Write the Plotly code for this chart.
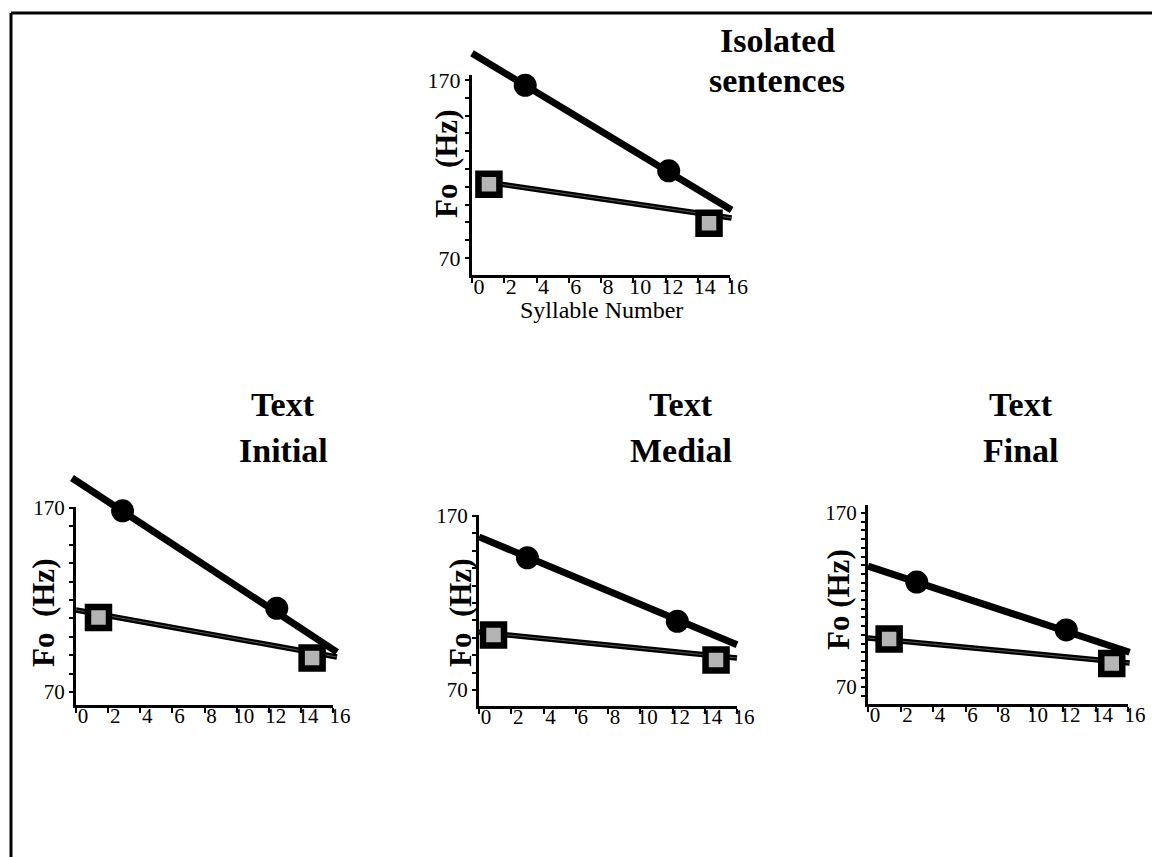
import plotly.graph_objects as go

W, H = 1152, 857

# ---- data: Fo (Hz) against syllable number ----
PANEL_TITLES = [["Isolated", "sentences"], ["Text", "Initial"], ["Text", "Medial"], ["Text", "Final"]]

# high (circle) regression line and its two marked points
CIRCLE_LINE_X = [[0, 16.1], [-0.25, 16.25], [0, 16.0], [0, 16.1]]
CIRCLE_LINE_Y = [[185, 97], [186.3, 91.7], [158, 96], [139.5, 90]]
CIRCLE_X = [[3.3, 12.2], [2.9, 12.5], [3.0, 12.3], [3.0, 12.2]]
CIRCLE_Y = [[167, 119], [168.5, 115.5], [146, 109.5], [130.3, 102.8]]

# low (square) regression line and its two marked points
SQUARE_LINE_X = [[0.6, 16.1], [0, 16.25], [0, 16.0], [0, 16.1]]
SQUARE_LINE_Y = [[113, 92.5], [114.6, 89], [103.3, 88.4], [98.2, 83.8]]
SQUARE_X = [[1.05, 14.7], [1.4, 14.7], [0.9, 14.7], [1.3, 15.0]]
SQUARE_Y = [[111.5, 89.5], [110.5, 88.5], [101.6, 87.2], [97.6, 83.5]]

X_TICKS = [0, 2, 4, 6, 8, 10, 12, 14, 16]
Y_LABELED = [70, 170]
Y_MINOR_STEP = [10, 10, 10, 5]
Y_LABEL_TEXT = ["Fo  (Hz)", "Fo  (Hz)", "Fo  (Hz)", "Fo (Hz)"]

# ---- panel geometry in page pixels ----
# (x=0 px, x=16 px, y=170 px, y=70 px, x-axis line px, top of y-axis px)
BOXES = [
    (472, 730, 80, 258, 275, 75),
    (76, 333, 508, 692, 705, 507),
    (479, 737, 516, 690, 706, 515),
    (868, 1128, 513, 687, 704, 505),
]
TITLE_POS = [(777, 41, 81), (283, 405, 450), (681, 405, 450), (1021, 405, 450)]
YLABEL_POS = [(447, 164), (43, 613), (460, 613), (838, 600)]
TICK_FONT = [22, 21, 21, 21]

SERIF = "Liberation Serif, Times New Roman, serif"

fig = go.Figure()
layout = dict(
    width=W, height=H, margin=dict(l=0, r=0, t=0, b=0, pad=0, autoexpand=False),
    paper_bgcolor="white", plot_bgcolor="rgba(0,0,0,0)",
    showlegend=False, annotations=[], shapes=[],
)


def px_map(box):
    x0, x16, y170, y70, _, _ = box
    kx = (x16 - x0) / 16.0
    ky = (y70 - y170) / 100.0
    return (lambda x: x0 + x * kx), (lambda y: y170 + (170 - y) * ky), ky


for i, box in enumerate(BOXES):
    fx, fy, ky = px_map(box)
    x0, x16, y170, y70, ybottom, ytop_px = box
    v, d = 2 * i + 1, 2 * i + 2
    vs = "" if v == 1 else str(v)
    ds = str(d)

    # visible axes: exactly the drawn axis extent
    y_lo = 70 - (ybottom - y70) / ky
    y_hi = 170 + (y170 - ytop_px) / ky
    step = Y_MINOR_STEP[i]
    yvals = [t for t in range(60, 175, step) if y_lo - 0.01 <= t <= y_hi + 0.01]
    ytext = [str(t) if t in Y_LABELED else "" for t in yvals]

    layout["xaxis" + vs] = dict(
        domain=[x0 / W, x16 / W], range=[0, 16], anchor="y" + vs, automargin=False,
        showline=True, linecolor="black", linewidth=3, showgrid=False, zeroline=False,
        ticks="outside", ticklen=5, tickwidth=2, tickcolor="black",
        tickvals=X_TICKS, ticktext=[str(t) for t in X_TICKS],
        ticklabelstandoff=-15, ticklabelshift=7,
        tickfont=dict(family=SERIF, size=TICK_FONT[i], color="black"),
        fixedrange=True,
    )
    layout["yaxis" + vs] = dict(
        domain=[1 - ybottom / H, 1 - ytop_px / H], range=[y_lo, y_hi], anchor="x" + vs,
        automargin=False,
        showline=True, linecolor="black", linewidth=3, showgrid=False, zeroline=False,
        ticks="outside", ticklen=4, tickwidth=2, tickcolor="black",
        tickvals=yvals, ticktext=ytext,
        tickfont=dict(family=SERIF, size=TICK_FONT[i], color="black"),
        fixedrange=True,
    )
    # an empty trace so the axes frame is rendered
    fig.add_trace(go.Scatter(x=[None], y=[None], mode="markers", xaxis="x" + vs,
                             yaxis="y" + vs, hoverinfo="skip"))

    # data axes: same scale, wider area so lines may run past the axes
    dx_lo, dx_hi = -1.0, 17.0
    dy_lo, dy_hi = 50.0, 200.0
    layout["xaxis" + ds] = dict(
        domain=[fx(dx_lo) / W, fx(dx_hi) / W], range=[dx_lo, dx_hi], anchor="y" + ds,
        visible=False, fixedrange=True, automargin=False,
    )
    layout["yaxis" + ds] = dict(
        domain=[1 - fy(dy_lo) / H, 1 - fy(dy_hi) / H], range=[dy_lo, dy_hi], anchor="x" + ds,
        visible=False, fixedrange=True, automargin=False,
    )

    xr, yr = "x" + ds, "y" + ds
    # square series: dark line with a slightly lighter core
    fig.add_trace(go.Scatter(x=SQUARE_LINE_X[i], y=SQUARE_LINE_Y[i], mode="lines",
                             line=dict(color="black", width=5.5), xaxis=xr, yaxis=yr,
                             hoverinfo="skip"))
    fig.add_trace(go.Scatter(x=SQUARE_LINE_X[i], y=SQUARE_LINE_Y[i], mode="lines",
                             line=dict(color="#555555", width=1), xaxis=xr, yaxis=yr,
                             hoverinfo="skip"))
    # circle series
    fig.add_trace(go.Scatter(x=CIRCLE_LINE_X[i], y=CIRCLE_LINE_Y[i], mode="lines",
                             line=dict(color="black", width=7), xaxis=xr, yaxis=yr,
                             hoverinfo="skip"))
    fig.add_trace(go.Scatter(x=CIRCLE_X[i], y=CIRCLE_Y[i], mode="markers",
                             marker=dict(symbol="circle", size=23, color="black"),
                             xaxis=xr, yaxis=yr))
    fig.add_trace(go.Scatter(x=SQUARE_X[i], y=SQUARE_Y[i], mode="markers",
                             marker=dict(symbol="square", size=21, color="#b4b4b4",
                                         line=dict(color="black", width=6.5)),
                             xaxis=xr, yaxis=yr))

    # titles
    tx, ty1, ty2 = TITLE_POS[i]
    for txt, ty in zip(PANEL_TITLES[i], (ty1, ty2)):
        layout["annotations"].append(dict(
            text="<b>%s</b>" % txt, x=tx / W, y=1 - ty / H, xref="paper", yref="paper",
            xanchor="center", yanchor="middle", showarrow=False,
            font=dict(family=SERIF, size=34, color="black"),
        ))
    # y-axis label
    lx, ly = YLABEL_POS[i]
    layout["annotations"].append(dict(
        text="<b>%s</b>" % Y_LABEL_TEXT[i].replace(" ", "&nbsp;"), x=lx / W, y=1 - ly / H,
        xref="paper", yref="paper", xanchor="center", yanchor="middle",
        showarrow=False, textangle=-90,
        font=dict(family=SERIF, size=31, color="black"),
    ))

# x-axis title of the top panel
layout["annotations"].append(dict(
    text="Syllable Number", x=601 / W, y=1 - 310 / H, xref="paper", yref="paper",
    xanchor="center", yanchor="middle", showarrow=False,
    font=dict(family=SERIF, size=24, color="black"),
))

# page frame (top and left edges)
layout["shapes"].append(dict(type="line", xref="paper", yref="paper",
                             x0=11 / W, x1=1, y0=1 - 13 / H, y1=1 - 13 / H,
                             line=dict(color="black", width=3)))
layout["shapes"].append(dict(type="line", xref="paper", yref="paper",
                             x0=11 / W, x1=11 / W, y0=1 - 13 / H, y1=0,
                             line=dict(color="black", width=3)))

fig.update_layout(**layout)
fig.write_html("out.html", config={"displayModeBar": False})
